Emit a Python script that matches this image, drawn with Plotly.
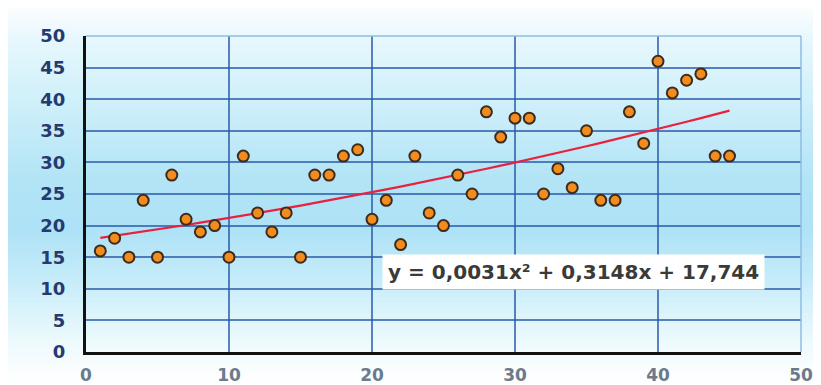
import plotly.graph_objects as go

# ---- data ----
x_vals = list(range(1, 46))
y_vals = [16, 18, 15, 24, 15, 28, 21, 19, 20, 15,
          31, 22, 19, 22, 15, 28, 28, 31, 32, 21,
          24, 17, 31, 22, 20, 28, 25, 38, 34, 37,
          37, 25, 29, 26, 35, 24, 24, 38, 33, 46,
          41, 43, 44, 31, 31]
trend_coef = [0.0031, 0.3148, 17.744]   # a, b, c of y = a x^2 + b x + c
trend_label = "y = 0,0031x² + 0,3148x + 17,744"
x_ticks = [0, 10, 20, 30, 40, 50]
y_ticks = [0, 5, 10, 15, 20, 25, 30, 35, 40, 45, 50]

trend_y = [trend_coef[0] * x * x + trend_coef[1] * x + trend_coef[2] for x in x_vals]

# page body has an 8px margin; the figure is laid out to compensate
OFF = 8
WIN_W, WIN_H = 821, 385
W, H = WIN_W - OFF, WIN_H - OFF
# plot area in window pixels: x 86..801, y 36..352
PL, PR, PT, PB = 86, 801, 36, 352
L, T = PL - OFF, PT - OFF
R, B = W - (PR - OFF), H - (PB - OFF)
pw, ph = PR - PL, PB - PT

def py_to_paper(py):      # window pixel -> paper
    return (PB - py) / ph

def px_to_paper(px):
    return (px - PL) / pw

# vertical gradient background (styling)
stops = [(0, (255, 255, 255)), (20, (244, 251, 254)), (40, (230, 247, 253)),
         (100, (208, 240, 250)), (180, (178, 228, 246)), (230, (174, 226, 246)),
         (280, (198, 236, 249)), (330, (230, 247, 252)), (360, (246, 252, 254)),
         (385, (255, 255, 255))]

def col_at(py):
    for (a, ca), (b, cb) in zip(stops[:-1], stops[1:]):
        if a <= py <= b:
            t = (py - a) / (b - a) if b > a else 0
            c = [round(ca[i] + (cb[i] - ca[i]) * t) for i in range(3)]
            return "rgb(%d,%d,%d)" % tuple(c)
    return "rgb(255,255,255)"

shapes = []
step = 5
for py in range(OFF, WIN_H, step):
    shapes.append(dict(type="rect", xref="paper", yref="paper",
                       x0=px_to_paper(OFF), x1=px_to_paper(WIN_W),
                       y0=py_to_paper(py + step + 0.5), y1=py_to_paper(py),
                       fillcolor=col_at(py + step / 2), line=dict(width=0),
                       layer="below"))
# light top/right border
shapes.append(dict(type="line", xref="paper", yref="paper", x0=0, x1=1, y0=1, y1=1,
                   line=dict(color="#8cbde6", width=1.5), layer="above"))
shapes.append(dict(type="line", xref="paper", yref="paper", x0=1, x1=1, y0=0, y1=1,
                   line=dict(color="#8cbde6", width=1.5), layer="above"))

fig = go.Figure()
fig.add_trace(go.Scatter(x=x_vals, y=trend_y, mode="lines",
                         line=dict(color="#e8213f", width=2.2), hoverinfo="skip"))
fig.add_trace(go.Scatter(x=x_vals, y=y_vals, mode="markers",
                         marker=dict(size=11, color="#f28c1c",
                                     line=dict(color="#3d2b1f", width=2))))

fig.add_annotation(x=34.1, y=12.6, xref="x", yref="y", text=trend_label,
                   showarrow=False, bgcolor="white", borderpad=5,
                   font=dict(family="DejaVu Sans", size=20, color="#3a3a3a", weight="bold"))

fig.update_layout(
    width=W, height=H,
    margin=dict(l=L, r=R, t=T, b=B),
    paper_bgcolor="white",
    plot_bgcolor="rgba(0,0,0,0)",
    showlegend=False,
    shapes=shapes,
)
fig.update_xaxes(range=[0, 50], tickvals=x_ticks, showgrid=True, automargin=False,
                 gridcolor="rgba(40,90,170,0.75)", gridwidth=1.5,
                 showline=True, linecolor="#111111", linewidth=3,
                 zeroline=False, ticks="", ticklabelstandoff=6,
                 tickfont=dict(family="DejaVu Sans", size=17, color="#6b7a8c", weight="bold"))
fig.update_yaxes(range=[0, 50], tickvals=y_ticks, showgrid=True, automargin=False,
                 gridcolor="rgba(40,90,170,0.75)", gridwidth=1.5,
                 showline=True, linecolor="#111111", linewidth=3,
                 zeroline=False, ticks="", ticklabelstandoff=14,
                 tickfont=dict(family="DejaVu Sans", size=18, color="#253a6e", weight="bold"))

fig.write_html("out.html")
